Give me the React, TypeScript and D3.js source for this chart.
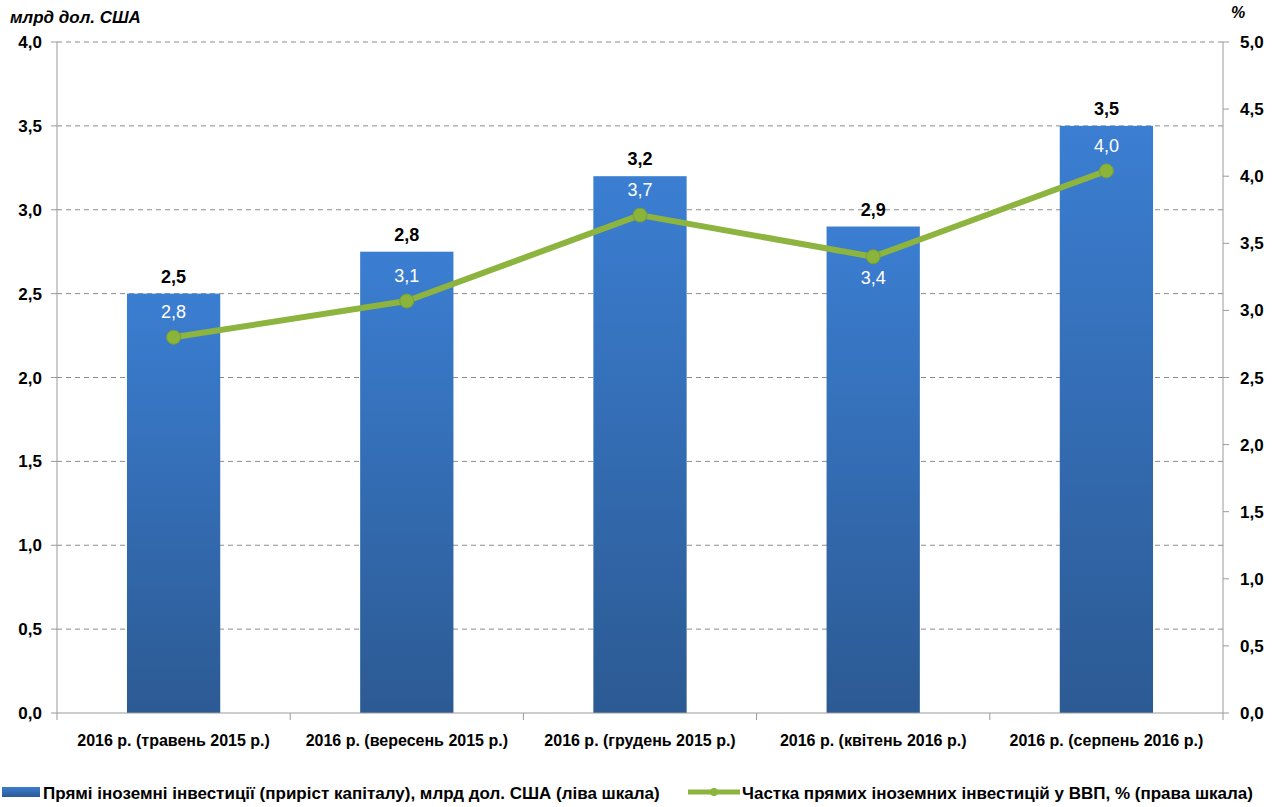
import React from 'react';
import * as d3 from 'd3';

const categories = [
  '2016 р. (травень 2015 р.)',
  '2016 р. (вересень 2015 р.)',
  '2016 р. (грудень 2015 р.)',
  '2016 р. (квітень 2016 р.)',
  '2016 р. (серпень 2016 р.)',
];
const fdiValues = [2.5, 2.75, 3.2, 2.9, 3.5];
const gdpShare = [2.8, 3.07, 3.71, 3.4, 4.04];
const shareLabelBelow = [false, false, false, true, false];
const leftTicks = [0, 0.5, 1, 1.5, 2, 2.5, 3, 3.5, 4];
const rightTicks = [0, 0.5, 1, 1.5, 2, 2.5, 3, 3.5, 4, 4.5, 5];
const legendBar = 'Прямі іноземні інвестиції (приріст капіталу), млрд дол. США (ліва шкала)';
const legendLine = 'Частка прямих іноземних інвестицій у ВВП, % (права шкала)';

const W = 1274;
const H = 807;
const margin = { left: 57, right: 51, top: 42, bottom: 94 };
const font = "'Liberation Sans Narrow', 'Arial Narrow', 'Liberation Sans', Arial, sans-serif";
const fmt = (v: number) => v.toFixed(1).replace('.', ',');

const App = () => {
  const x0 = margin.left;
  const x1 = W - margin.right;
  const y0 = H - margin.bottom;
  const y1 = margin.top;

  const x = d3.scaleBand().domain(categories).range([x0, x1]).paddingInner(0.6).paddingOuter(0.3);
  const yL = d3.scaleLinear().domain([0, 4]).range([y0, y1]);
  const yR = d3.scaleLinear().domain([0, 5]).range([y0, y1]);
  const band = (x1 - x0) / categories.length;
  const cx = (i: number) => (x(categories[i]) as number) + x.bandwidth() / 2;

  const line = d3
    .line<number>()
    .x((_, i) => cx(i))
    .y((d) => yR(d));

  return (
    <svg width={W} height={H} style={{ position: 'absolute', left: 0, top: 0, background: '#fff' }}>
      <defs>
        <linearGradient id="barGrad" x1="0" y1="0" x2="0" y2="1">
          <stop offset="0%" stopColor="#3b7ed2" />
          <stop offset="100%" stopColor="#2c5a93" />
        </linearGradient>
      </defs>

      {/* gridlines */}
      {leftTicks.filter((t) => t > 0).map((t) => (
        <line key={t} x1={x0} x2={x1} y1={yL(t)} y2={yL(t)} stroke="#8c8c8c" strokeDasharray="5,4" strokeWidth={1} />
      ))}

      {/* bars */}
      {fdiValues.map((v, i) => (
        <rect key={i} x={x(categories[i])} y={yL(v)} width={x.bandwidth()} height={y0 - yL(v)} fill="url(#barGrad)" />
      ))}

      {/* axes */}
      <line x1={x0} x2={x0} y1={y1} y2={y0} stroke="#9a9a9a" />
      <line x1={x1} x2={x1} y1={y1} y2={y0} stroke="#9a9a9a" />
      <line x1={x0} x2={x1} y1={y0} y2={y0} stroke="#9a9a9a" />
      {leftTicks.map((t) => (
        <g key={t}>
          <line x1={x0 - 6} x2={x0} y1={yL(t)} y2={yL(t)} stroke="#9a9a9a" />
          <text x={x0 - 15} y={yL(t) + 6} textAnchor="end" fontFamily={font} fontWeight="bold" fontSize={17} fill="#000">{fmt(t)}</text>
        </g>
      ))}
      {rightTicks.map((t) => (
        <g key={t}>
          <line x1={x1} x2={x1 + 6} y1={yR(t)} y2={yR(t)} stroke="#9a9a9a" />
          <text x={x1 + 17} y={yR(t) + 6} textAnchor="start" fontFamily={font} fontWeight="bold" fontSize={17} fill="#000">{fmt(t)}</text>
        </g>
      ))}
      {d3.range(categories.length + 1).map((k) => (
        <line key={k} x1={x0 + k * band} x2={x0 + k * band} y1={y0} y2={y0 + 7} stroke="#9a9a9a" />
      ))}
      {categories.map((c, i) => (
        <text key={c} x={cx(i)} y={y0 + 33} textAnchor="middle" fontFamily={font} fontWeight="bold" fontSize={16} fill="#000">{c}</text>
      ))}

      {/* axis titles */}
      <text x={10} y={23} fontFamily={font} fontWeight="bold" fontStyle="italic" fontSize={17} fill="#000">млрд дол. США</text>
      <text x={1231} y={18} fontFamily={font} fontWeight="bold" fontStyle="italic" fontSize={16} fill="#000">%</text>

      {/* bar value labels */}
      {fdiValues.map((v, i) => (
        <text key={i} x={cx(i)} y={yL(v) - 11} textAnchor="middle" fontFamily={font} fontWeight="bold" fontSize={18} fill="#000">{fmt(v)}</text>
      ))}

      {/* line */}
      <path d={line(gdpShare) || ''} fill="none" stroke="#8cb43f" strokeWidth={6} strokeLinejoin="round" />
      {gdpShare.map((v, i) => (
        <circle key={i} cx={cx(i)} cy={yR(v)} r={7} fill="#8ab43a" stroke="#7a9f33" strokeWidth={1} />
      ))}
      {gdpShare.map((v, i) => (
        <text key={i} x={cx(i)} y={shareLabelBelow[i] ? yR(v) + 27 : yR(v) - 19} textAnchor="middle" fontFamily={font} fontSize={18} fill="#fff">{fmt(v)}</text>
      ))}

      {/* legend */}
      <rect x={2} y={787} width={38} height={10} fill="url(#barGrad)" />
      <text x={43} y={799} fontFamily={font} fontWeight="bold" fontSize={17} fill="#000">{legendBar}</text>
      <line x1={688} x2={740} y1={792} y2={792} stroke="#8cb43f" strokeWidth={5} />
      <circle cx={714} cy={792} r={4} fill="#8ab43a" />
      <text x={742} y={799} fontFamily={font} fontWeight="bold" fontSize={17} fill="#000">{legendLine}</text>
    </svg>
  );
};

export default App;
